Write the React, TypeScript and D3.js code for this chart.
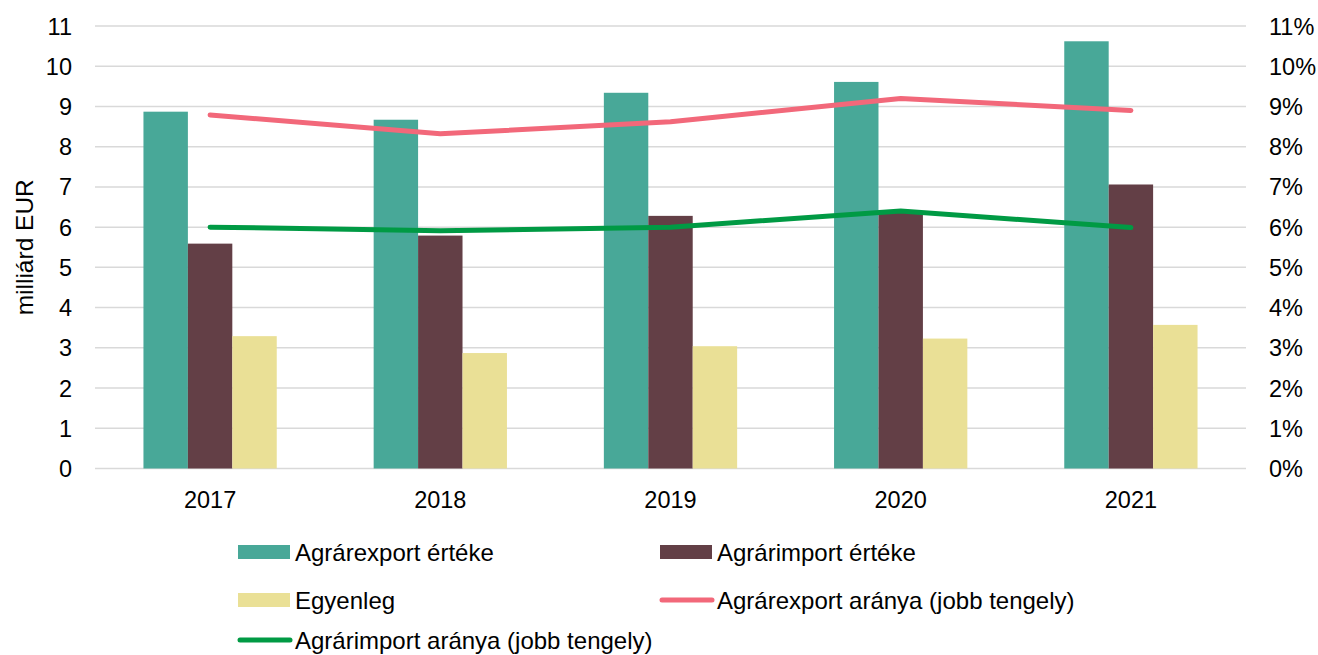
import { useEffect, useRef } from "react";
import * as d3 from "d3";

const years = ["2017", "2018", "2019", "2020", "2021"];
const exportValue = [8.87, 8.67, 9.34, 9.61, 10.62];
const importValue = [5.59, 5.79, 6.28, 6.38, 7.06];
const balance = [3.29, 2.87, 3.04, 3.23, 3.57];
const exportShare = [8.79, 8.32, 8.62, 9.2, 8.9];
const importShare = [6.0, 5.91, 6.0, 6.4, 5.99];
const leftTicks = d3.range(0, 12);
const rightTicks = d3.range(0, 12);

const barSeries = [
  { name: "Agrárexport értéke", values: exportValue, color: "#48a898" },
  { name: "Agrárimport értéke", values: importValue, color: "#633f46" },
  { name: "Egyenleg", values: balance, color: "#eae096" },
];
const lineSeries = [
  { name: "Agrárexport aránya (jobb tengely)", values: exportShare, color: "#f2687a" },
  { name: "Agrárimport aránya (jobb tengely)", values: importShare, color: "#009a44" },
];

export default function App() {
  const ref = useRef<SVGSVGElement | null>(null);

  useEffect(() => {
    document.body.style.margin = "0";
    const svg = d3.select(ref.current);
    svg.selectAll("*").remove();
    const font = "Liberation Sans, Arial, sans-serif";
    const fs = 23.5;

    const left = 95;
    const right = 1246;
    const top = 26;
    const bottom = 468.5;

    const x = d3.scaleBand().domain(years).range([left, right]);
    const y = d3.scaleLinear().domain([0, 11]).range([bottom, top]);
    const yr = d3.scaleLinear().domain([0, 11]).range([bottom, top]);
    const barW = x.bandwidth() * 0.193;

    // grid
    svg
      .append("g")
      .selectAll("line")
      .data(leftTicks)
      .join("line")
      .attr("x1", left)
      .attr("x2", right)
      .attr("y1", (d) => y(d))
      .attr("y2", (d) => y(d))
      .attr("stroke", "#d9d9d9")
      .attr("stroke-width", 1.5);

    // bars
    barSeries.forEach((s, si) => {
      svg
        .append("g")
        .selectAll("rect")
        .data(s.values)
        .join("rect")
        .attr("x", (_, i) => x(years[i])! + x.bandwidth() / 2 + (si - 1.5) * barW)
        .attr("width", barW)
        .attr("y", (d) => y(d))
        .attr("height", (d) => y(0) - y(d))
        .attr("fill", s.color);
    });

    // lines
    lineSeries.forEach((s) => {
      const line = d3
        .line<number>()
        .x((_, i) => x(years[i])! + x.bandwidth() / 2)
        .y((d) => yr(d));
      svg
        .append("path")
        .datum(s.values)
        .attr("fill", "none")
        .attr("stroke", s.color)
        .attr("stroke-width", 5)
        .attr("stroke-linecap", "round")
        .attr("stroke-linejoin", "round")
        .attr("d", line);
    });

    // left ticks
    svg
      .append("g")
      .selectAll("text")
      .data(leftTicks)
      .join("text")
      .attr("x", 72)
      .attr("y", (d) => y(d) + 8.5)
      .attr("text-anchor", "end")
      .attr("font-family", font)
      .attr("font-size", fs)
      .attr("fill", "#000")
      .text((d) => String(d));

    // right ticks
    svg
      .append("g")
      .selectAll("text")
      .data(rightTicks)
      .join("text")
      .attr("x", 1269)
      .attr("y", (d) => yr(d) + 8.5)
      .attr("font-family", font)
      .attr("font-size", fs)
      .attr("fill", "#000")
      .text((d) => `${d}%`);

    // x labels
    svg
      .append("g")
      .selectAll("text")
      .data(years)
      .join("text")
      .attr("x", (d) => x(d)! + x.bandwidth() / 2)
      .attr("y", 508)
      .attr("text-anchor", "middle")
      .attr("font-family", font)
      .attr("font-size", fs)
      .attr("fill", "#000")
      .text((d) => d);

    svg
      .append("text")
      .attr("transform", `translate(33,${(top + bottom) / 2}) rotate(-90)`)
      .attr("text-anchor", "middle")
      .attr("font-family", font)
      .attr("font-size", 24.5)
      .attr("fill", "#000")
      .text("milliárd EUR");

    // legend
    const items = [
      { ...barSeries[0], kind: "bar", lx: 238, ly: 552 },
      { ...barSeries[1], kind: "bar", lx: 660, ly: 552 },
      { ...barSeries[2], kind: "bar", lx: 238, ly: 600 },
      { ...lineSeries[0], kind: "line", lx: 660, ly: 600 },
      { ...lineSeries[1], kind: "line", lx: 238, ly: 640 },
    ];
    const lg = svg.append("g");
    items.forEach((it) => {
      if (it.kind === "bar") {
        lg.append("rect")
          .attr("x", it.lx)
          .attr("y", it.ly - 7)
          .attr("width", 52)
          .attr("height", 14)
          .attr("fill", it.color);
      } else {
        lg.append("line")
          .attr("x1", it.lx + 2)
          .attr("x2", it.lx + 52)
          .attr("y1", it.ly)
          .attr("y2", it.ly)
          .attr("stroke", it.color)
          .attr("stroke-width", 5)
          .attr("stroke-linecap", "round");
      }
      lg.append("text")
        .attr("x", it.lx + 57)
        .attr("y", it.ly + 8.5)
        .attr("font-family", font)
        .attr("font-size", 24)
        .attr("fill", "#000")
        .text(it.name);
    });
  }, []);

  return <svg ref={ref} width={1318} height={655} style={{ display: "block" }} />;
}
